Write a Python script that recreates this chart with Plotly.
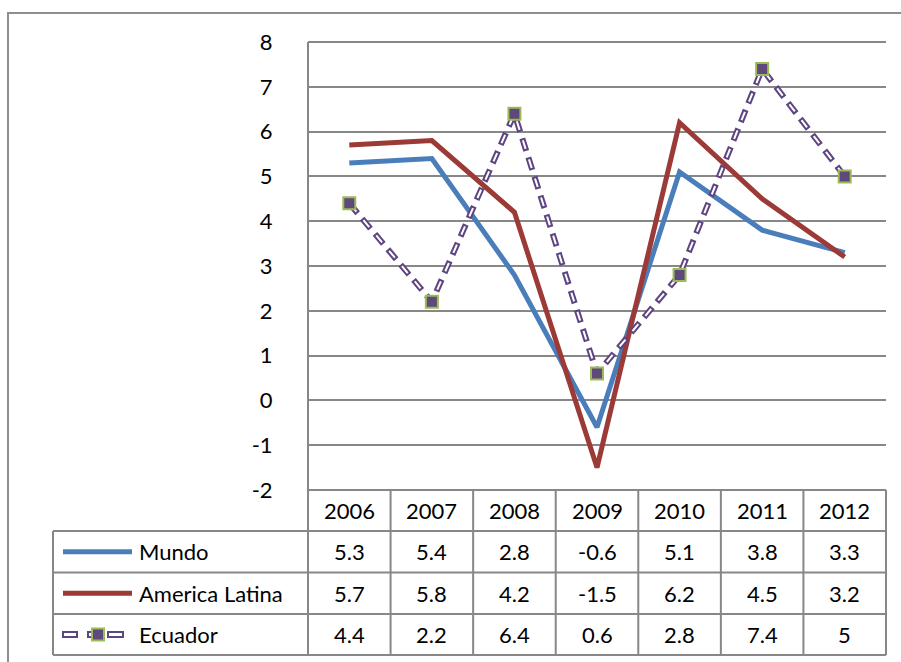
import plotly.graph_objects as go

# Growth rates (%) by year
years = ["2006", "2007", "2008", "2009", "2010", "2011", "2012"]
mundo = [5.3, 5.4, 2.8, -0.6, 5.1, 3.8, 3.3]
america_latina = [5.7, 5.8, 4.2, -1.5, 6.2, 4.5, 3.2]
ecuador = [4.4, 2.2, 6.4, 0.6, 2.8, 7.4, 5]
series_names = ["Mundo", "America Latina", "Ecuador"]
y_ticks = [-2, -1, 0, 1, 2, 3, 4, 5, 6, 7, 8]

W, H = 901, 662
FONT = "Lato"
GRID = "#878787"
BLUE = "#4A7EBB"
RED = "#9B3A37"
PURPLE = "#5E4582"
MARK_FILL = "#5F497A"
MARK_EDGE = "#9BBB59"

# pixel layout of plot area and data table
PX_L, PX_R = 308, 886
PY_T, PY_B = 42, 490
ROW_Y = [490, 531, 572.5, 614, 655]
LEG_L = 53


def px(x):
    return x / W


def py(y):
    return 1 - y / H


fig = go.Figure()

fig.add_trace(go.Scatter(x=years, y=mundo, mode="lines",
                         line=dict(color=BLUE, width=5), showlegend=False))
fig.add_trace(go.Scatter(x=years, y=america_latina, mode="lines",
                         line=dict(color=RED, width=5), showlegend=False))
# hollow dashed line: purple dashes with a narrower white core
fig.add_trace(go.Scatter(x=years, y=ecuador, mode="lines",
                         line=dict(color=PURPLE, width=6, dash="13px,7px"),
                         showlegend=False))
fig.add_trace(go.Scatter(x=years, y=ecuador, mode="lines",
                         line=dict(color="white", width=2, dash="0px,2px,9px,9px"),
                         showlegend=False))
fig.add_trace(go.Scatter(x=years, y=ecuador, mode="markers",
                         marker=dict(symbol="square", size=12, color=MARK_FILL,
                                     line=dict(color=MARK_EDGE, width=2)),
                         showlegend=False))

shapes = []
line_style = dict(color=GRID, width=2)

# outer chart frame
shapes.append(dict(type="rect", xref="paper", yref="paper",
                   x0=px(8), x1=px(W + 20), y0=py(H + 20), y1=py(13),
                   line=dict(color="#8E8E8E", width=2), fillcolor="rgba(0,0,0,0)",
                   layer="below"))

# top and bottom boundaries of the value range
for yy in (PY_T, PY_B):
    shapes.append(dict(type="line", xref="paper", yref="paper",
                       x0=px(PX_L), x1=px(PX_R), y0=py(yy), y1=py(yy), line=line_style))

# left axis continuing down through the table
shapes.append(dict(type="line", xref="paper", yref="paper",
                   x0=px(PX_L), x1=px(PX_L), y0=py(PY_T), y1=py(ROW_Y[-1]), line=line_style))

# table grid
col_w = (PX_R - PX_L) / len(years)
for i in range(1, len(years) + 1):
    xx = PX_L + i * col_w
    shapes.append(dict(type="line", xref="paper", yref="paper",
                       x0=px(xx), x1=px(xx), y0=py(ROW_Y[0]), y1=py(ROW_Y[-1]), line=line_style))
for yy in ROW_Y[1:]:
    shapes.append(dict(type="line", xref="paper", yref="paper",
                       x0=px(LEG_L), x1=px(PX_R), y0=py(yy), y1=py(yy), line=line_style))
shapes.append(dict(type="line", xref="paper", yref="paper",
                   x0=px(LEG_L), x1=px(LEG_L), y0=py(ROW_Y[1]), y1=py(ROW_Y[-1]), line=line_style))

annotations = []
txt_font = dict(family=FONT, size=22, color="black")

# year header row
for i, yr in enumerate(years):
    annotations.append(dict(x=px(PX_L + (i + 0.5) * col_w), y=py((ROW_Y[0] + ROW_Y[1]) / 2),
                            xref="paper", yref="paper", text=yr, showarrow=False,
                            font=txt_font, xanchor="center", yanchor="middle"))

# value rows with legend keys
for r, (name, vals) in enumerate(zip(series_names, [mundo, america_latina, ecuador])):
    yc = (ROW_Y[r + 1] + ROW_Y[r + 2]) / 2
    for i, v in enumerate(vals):
        annotations.append(dict(x=px(PX_L + (i + 0.5) * col_w), y=py(yc),
                                xref="paper", yref="paper", text=f"{v:g}", showarrow=False,
                                font=txt_font, xanchor="center", yanchor="middle"))
    annotations.append(dict(x=px(137), y=py(yc), xref="paper", yref="paper", text=name,
                            showarrow=False, font=txt_font, xanchor="left", yanchor="middle"))
    if r < 2:
        shapes.append(dict(type="line", xref="paper", yref="paper",
                           x0=px(63), x1=px(132), y0=py(yc), y1=py(yc),
                           line=dict(color=[BLUE, RED][r], width=5)))
    else:
        for a, b in ((63, 77), (88, 93), (108, 123)):
            shapes.append(dict(type="rect", xref="paper", yref="paper",
                               x0=px(a), x1=px(b), y0=py(yc + 2.5), y1=py(yc - 2.5),
                               line=dict(color=PURPLE, width=2), fillcolor="white"))
        shapes.append(dict(type="rect", xref="paper", yref="paper",
                           x0=px(92), x1=px(104), y0=py(yc + 6), y1=py(yc - 6),
                           line=dict(color=MARK_EDGE, width=2), fillcolor=MARK_FILL))

fig.update_layout(
    width=W, height=H, autosize=False,
    margin=dict(l=0, r=0, t=0, b=0, pad=0, autoexpand=False),
    paper_bgcolor="white", plot_bgcolor="white",
    shapes=shapes, annotations=annotations,
    xaxis=dict(domain=[px(PX_L), px(PX_R)], type="category", categoryorder="array",
               categoryarray=years, range=[-0.5, len(years) - 0.5], automargin=False,
               showticklabels=False, showgrid=False, zeroline=False, showline=False),
    yaxis=dict(domain=[py(PY_B), py(PY_T)], range=[-2, 8], tickvals=y_ticks,
               ticktext=[str(t) for t in y_ticks], automargin=False,
               showgrid=True, gridcolor=GRID, gridwidth=2, zeroline=False, showline=False,
               ticks="outside", ticklen=30, tickcolor="rgba(0,0,0,0)",
               tickfont=txt_font),
)

fig.write_html("out.html")
